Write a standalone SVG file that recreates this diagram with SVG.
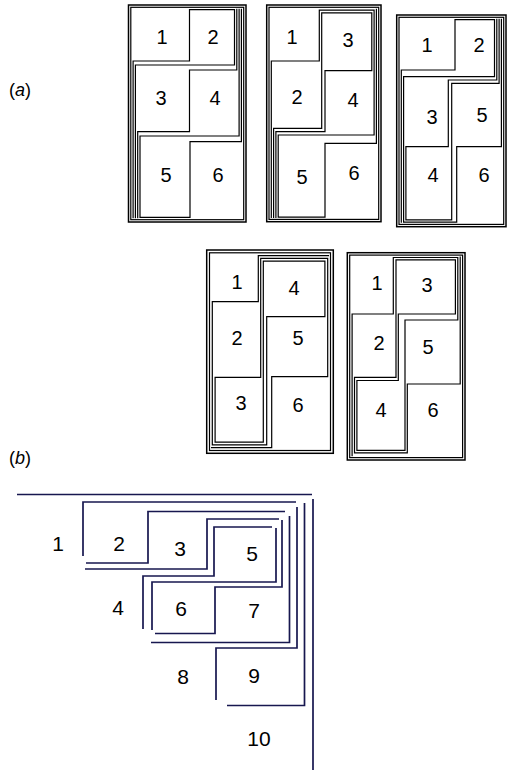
<svg xmlns="http://www.w3.org/2000/svg" width="507" height="771" viewBox="0 0 507 771">
<style>
.ta{font-family:"Liberation Sans",Arial,sans-serif;font-size:20px;fill:#000;text-anchor:middle}
.tb{font-family:"Liberation Sans",Arial,sans-serif;font-size:21px;fill:#000;text-anchor:middle}
.lab{font-family:"Liberation Sans",Arial,sans-serif;font-size:18px;fill:#000}
.fr{fill:none;stroke:#000;stroke-width:1.5}
.ln{fill:none;stroke:#000;stroke-width:1.2;stroke-linejoin:miter}
.nb{fill:none;stroke:#17174f;stroke-width:1.7}
</style>
<rect width="507" height="771" fill="#fff"/>
<text class="lab" x="9" y="96">(<tspan font-style="italic">a</tspan>)</text>
<text class="lab" x="9" y="464">(<tspan font-style="italic">b</tspan>)</text>

<g id="t1">
<rect class="fr" x="128.5" y="5" width="117.5" height="217"/>
<rect class="ln" x="130.8" y="7.3" width="112.9" height="212.4"/>
<path class="ln" d="M133.1,218.2 V61 H189.5 V9.6 H234.5 V65 H135.4 V218.2"/>
<path class="ln" d="M137.7,218.2 V131.7 H189.5 V70 H236.8 V8.8"/>
<path class="ln" d="M239.1,8.8 V136 H140 V217.4 H190 V141.7 H241.4 V8.8"/>
<text class="ta" x="162" y="44">1</text><text class="ta" x="213" y="44">2</text>
<text class="ta" x="161" y="105">3</text><text class="ta" x="215" y="105">4</text>
<text class="ta" x="166" y="182">5</text><text class="ta" x="218" y="182">6</text>
</g>

<g id="t2">
<rect class="fr" x="266.7" y="5" width="114.3" height="216.7"/>
<rect class="ln" x="269" y="7.3" width="109.7" height="212.1"/>
<path class="ln" d="M273.6,218 V128.3 H321.7 V12.8 H371.8 V70.7 H325 V131.7 H275.9 V218"/>
<path class="ln" d="M271.3,218 V61 H319.3 V10.2 H374.1 V135 H278.2 V217.1 H325 V143.3 H376.4 V8.8"/>
<text class="ta" x="292" y="44">1</text><text class="ta" x="348" y="47">3</text>
<text class="ta" x="297" y="104">2</text><text class="ta" x="353" y="107">4</text>
<text class="ta" x="302" y="184">5</text><text class="ta" x="354" y="180">6</text>
</g>

<g id="t3">
<rect class="fr" x="396.7" y="15" width="109.3" height="211.7"/>
<rect class="ln" x="399" y="17.3" width="104.7" height="207.1"/>
<path class="ln" d="M401.3,222.8 V70 H455 V19.6 H494.5 V76.7 H403.6 V222.1 H456.7 V146.7 H501.4 V18.8"/>
<path class="ln" d="M496.8,18.8 V80 H448.3 V146.7 H405.9 V219.8 H451.7 V83.3 H499.1 V18.8"/>
<text class="ta" x="427" y="52">1</text><text class="ta" x="479" y="52">2</text>
<text class="ta" x="432" y="124">3</text><text class="ta" x="482" y="122">5</text>
<text class="ta" x="433" y="182">4</text><text class="ta" x="484" y="182">6</text>
</g>

<g id="t4">
<rect class="fr" x="206.7" y="250" width="126.6" height="203.3"/>
<rect class="ln" x="209.5" y="252.8" width="121" height="197.7"/>
<path class="ln" d="M329,255.6 H258.3 V301.7 H212.3 V444.9 H266.7 V316.7 H324.9 V261.2 H263.3 V442.1 H215.1 V377.3 H260.7 V258.4 H327.7 V376.7 H271.7 V447.7 H211"/>
<text class="ta" x="237" y="289">1</text><text class="ta" x="294" y="295">4</text>
<text class="ta" x="237" y="345">2</text><text class="ta" x="298" y="345">5</text>
<text class="ta" x="241" y="410">3</text><text class="ta" x="298" y="412">6</text>
</g>

<g id="t5">
<rect class="fr" x="347.3" y="252.7" width="117.7" height="207.3"/>
<rect class="ln" x="349.7" y="255.1" width="112.9" height="202.5"/>
<path class="ln" d="M352.1,456.2 V314 H393.3 V257.5 H457.8 V320 H405 V450.4 H356.9 V380.5 H398.3 V314 H455.4 V259.9 H396 V377.3 H354.5 V452.8 H407.3 V384 H460.2 V256.5"/>
<text class="ta" x="377" y="290">1</text><text class="ta" x="427" y="292">3</text>
<text class="ta" x="379" y="350">2</text><text class="ta" x="428" y="354">5</text>
<text class="ta" x="381" y="417">4</text><text class="ta" x="433" y="417">6</text>
</g>

<g id="connectors">
<path class="nb" d="M17,494.5 H312 M313,499 V770"/>
<path class="nb" d="M83,556 V502 H296"/>
<path class="nb" d="M86,563 H148 V511.5 H285"/>
<path class="nb" d="M85,569 H207 V519 H279"/>
<path class="nb" d="M143,629 V576 H214 V527 H272"/>
<path class="nb" d="M276,528 V582 H152 V630"/>
<path class="nb" d="M282,520 V587 H215 V633.5 H155"/>
<path class="nb" d="M289.5,516 V642.5 H151"/>
<path class="nb" d="M297,507 V648 H216 V700"/>
<path class="nb" d="M304.5,503 V705.5 H227"/>
</g>

<g id="b-labels">
<text class="tb" x="58" y="550.5">1</text>
<text class="tb" x="119" y="550.5">2</text>
<text class="tb" x="180" y="555.5">3</text>
<text class="tb" x="252" y="560.5">5</text>
<text class="tb" x="118" y="614.5">4</text>
<text class="tb" x="181" y="615.5">6</text>
<text class="tb" x="254" y="617.5">7</text>
<text class="tb" x="183" y="683.5">8</text>
<text class="tb" x="254" y="682.5">9</text>
<text class="tb" x="259" y="745.5">10</text>
</g>
</svg>
